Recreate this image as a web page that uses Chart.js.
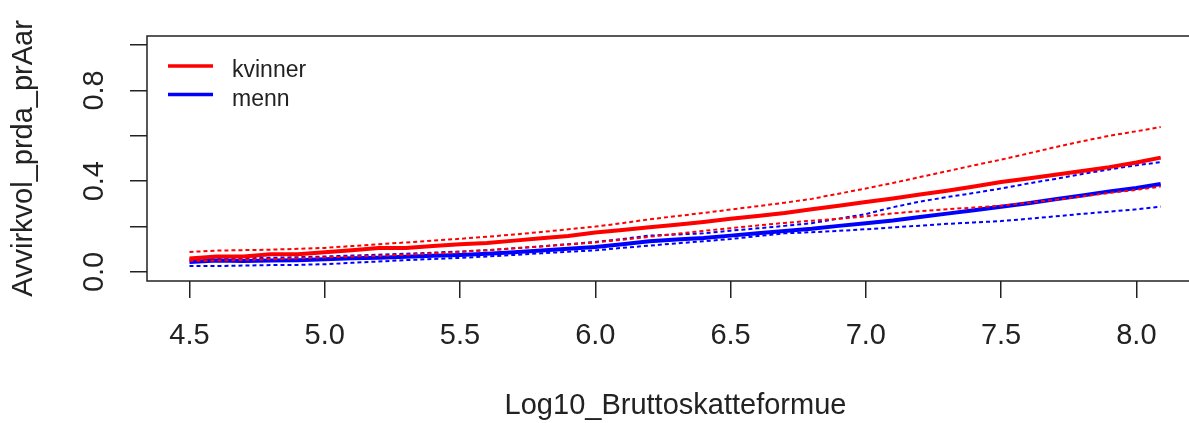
<!DOCTYPE html>
<html>
<head>
<meta charset="utf-8">
<script src="https://cdn.jsdelivr.net/npm/chart.js@4.4.1/dist/chart.umd.min.js"></script>
<style>
  html, body { margin:0; padding:0; background:#fff; overflow:hidden; }
  #wrap { width:1215px; height:423px; }
</style>
</head>
<body>
<div id="wrap"><canvas id="c" width="1215" height="423"></canvas></div>
<script>
// values
const xVals = [4.5,4.6,4.7,4.8,4.9,5.0,5.1,5.2,5.3,5.4,5.5,5.6,5.7,5.8,5.9,6.0,6.1,6.2,6.3,6.4,
  6.5,6.6,6.7,6.8,6.9,7.0,7.1,7.2,7.3,7.4,7.5,7.6,7.7,7.8,7.9,8.0,8.09];

const kvinner   = [.059,.068,.068,.078,.078,.087,.096,.105,.105,.114,.122,.128,.138,.148,.158,.174,.185,.197,.208,.220,
  .234,.247,.260,.276,.292,.308,.324,.341,.358,.377,.396,.412,.428,.445,.462,.482,.504];
const kvinnerHi = [.088,.094,.096,.098,.102,.106,.114,.122,.130,.138,.146,.155,.165,.176,.188,.200,.215,.232,.246,.260,
  .275,.290,.305,.322,.345,.368,.392,.418,.444,.470,.495,.522,.550,.576,.600,.620,.639];
const kvinnerLo = [.049,.050,.053,.056,.060,.064,.068,.071,.076,.082,.088,.096,.104,.112,.121,.130,.142,.155,.168,.181,
  .193,.205,.216,.226,.234,.245,.258,.268,.276,.284,.292,.305,.318,.333,.348,.362,.376];

const menn   = [.044,.050,.048,.050,.052,.056,.060,.063,.067,.071,.075,.080,.087,.094,.102,.110,.122,.135,.143,.150,
  .160,.170,.180,.190,.203,.215,.227,.242,.257,.272,.287,.303,.320,.337,.355,.370,.388];
const mennHi = [.056,.058,.060,.062,.065,.068,.072,.076,.080,.085,.090,.096,.104,.113,.122,.132,.145,.160,.165,.170,
  .182,.192,.203,.215,.235,.255,.285,.310,.330,.348,.368,.390,.410,.432,.452,.470,.484];
const mennLo = [.026,.026,.028,.030,.031,.034,.040,.046,.052,.057,.062,.068,.075,.082,.089,.095,.106,.116,.126,.135,
  .145,.158,.170,.175,.181,.188,.196,.204,.212,.218,.224,.234,.245,.256,.266,.276,.288];

const xTicks = [4.5,5.0,5.5,6.0,6.5,7.0,7.5,8.0];
const yTicks = [0,0.2,0.4,0.6,0.8,1.0];
const yLabeled = [0,0.4,0.8];

const FONT = 'Liberation Sans, Arial, sans-serif';
const INK = '#222';

function pts(ys){ return ys.map((y,i)=>({x:xVals[i], y:y})); }

function line(label, ys, color, dotted){
  return {
    label: label,
    data: pts(ys),
    borderColor: color,
    borderWidth: dotted ? 2 : 4,
    borderDash: dotted ? [4,3] : [],
    pointRadius: 0,
    tension: 0,
    fill: false,
    isMain: !dotted
  };
}

// box around the plot region + legend in top-left corner
const boxAndLegend = {
  id:'boxAndLegend',
  afterDraw(chart){
    const {ctx, chartArea:a} = chart;
    ctx.save();
    ctx.strokeStyle = INK;
    ctx.lineWidth = 1.5;
    ctx.strokeRect(a.left, a.top, a.right-a.left, a.bottom-a.top);
    const mains = chart.data.datasets.filter(d=>d.isMain);
    ctx.font = '23px ' + FONT;
    ctx.textBaseline = 'alphabetic';
    mains.forEach((d,i)=>{
      const y = 66 + i*28.5;
      ctx.strokeStyle = d.borderColor;
      ctx.lineWidth = 3.5;
      ctx.beginPath(); ctx.moveTo(168, y); ctx.lineTo(213, y); ctx.stroke();
      ctx.fillStyle = INK;
      ctx.fillText(d.label, 232, y + 11);
    });
    ctx.restore();
  }
};

new Chart(document.getElementById('c'), {
  type:'line',
  data:{
    datasets:[
      line('kvinner', kvinner, '#ff0000', false),
      line('kvinner øvre', kvinnerHi, '#ff0000', true),
      line('kvinner nedre', kvinnerLo, '#ff0000', true),
      line('menn', menn, '#0000ff', false),
      line('menn øvre', mennHi, '#0000ff', true),
      line('menn nedre', mennLo, '#0000ff', true)
    ]
  },
  options:{
    responsive:false,
    animation:false,
    layout:{padding:{left:0, top:36, right:11, bottom:0}},
    plugins:{legend:{display:false}, tooltip:{enabled:false}},
    scales:{
      x:{
        type:'linear', min:4.343, max:8.25,
        afterBuildTicks: s => { s.ticks = xTicks.map(v=>({value:v})); },
        afterFit: s => { s.height = 142; },
        border:{display:false},
        grid:{drawOnChartArea:false, drawTicks:true, tickLength:17, color:INK, lineWidth:1.5},
        ticks:{autoSkip:false, maxRotation:0, padding:21, color:INK, font:{family:FONT, size:29},
          callback: v => v.toFixed(1)},
        title:{display:true, text:'Log10_Bruttoskatteformue', color:INK,
          font:{family:FONT, size:29}, padding:{top:0, bottom:0}}
      },
      y:{
        type:'linear', min:-0.04, max:1.04,
        afterBuildTicks: s => { s.ticks = yTicks.map(v=>({value:v})); },
        afterFit: s => { s.width = 147; },
        border:{display:false},
        grid:{drawOnChartArea:false, drawTicks:true, tickLength:17, color:INK, lineWidth:1.5},
        ticks:{autoSkip:false, minRotation:90, maxRotation:90, crossAlign:'center', padding:15,
          color:INK, font:{family:FONT, size:29},
          callback: v => yLabeled.some(t=>Math.abs(t-v)<1e-9) ? v.toFixed(1) : ''},
        title:{display:true, text:'Avvirkvol_prda_prAar', color:INK,
          font:{family:FONT, size:29}, padding:{top:7, bottom:0}}
      }
    }
  },
  plugins:[boxAndLegend]
});
</script>
</body>
</html>
